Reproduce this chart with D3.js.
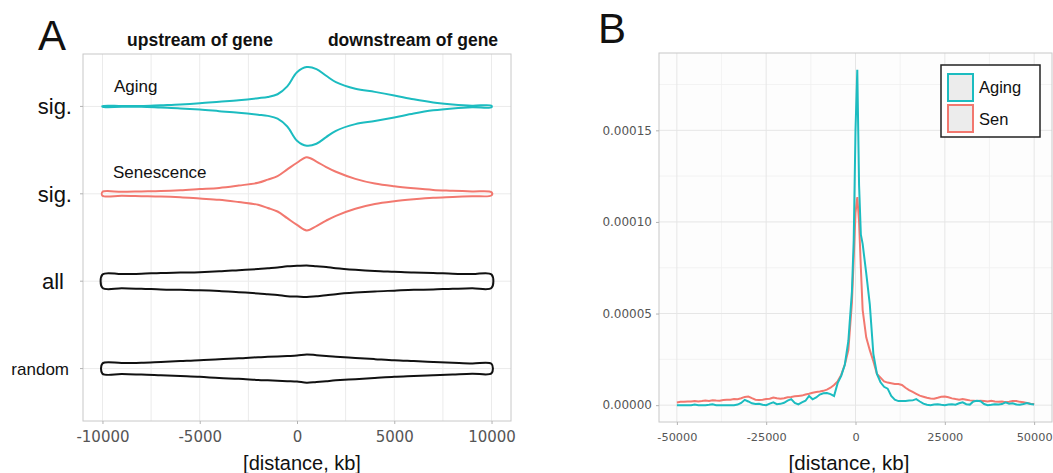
<!DOCTYPE html>
<html>
<head>
<meta charset="utf-8">
<script src="https://cdn.jsdelivr.net/npm/d3@7"></script>
<style>
  body { margin: 0; background: #fff; }
  svg text { font-family: "Liberation Sans", Arial, sans-serif; }
  .tick text { font-family: "DejaVu Sans", sans-serif; fill: #555; }
  .tick line { stroke: #b3b3b3; }
</style>
</head>
<body>
<div id="chart"></div>
<script>
/**
 * DATA
 * */
// panel A: violin density profiles (relative density, Aging peak = 100)
const violinDist = [-10000, -9000, -8000, -7000, -6000, -5000, -4000, -3000, -2000, -1500, -1000, -500,
  0, 500, 1000, 1500, 2000, 3000, 4000, 5000, 6000, 7000, 8000, 9000, 10000];
const violinGroups = ["Aging", "Senescence", "all", "random"];
const violinLabels = ["sig.", "sig.", "all", "random"];
const densAging = [1, 1, 1, 3, 5, 8, 12, 16, 21, 24, 31, 51, 87, 100, 95, 78, 62, 45, 37, 28, 18, 10, 5, 2, 2];
const densSen = [5, 5, 6, 7, 9, 12, 15, 21, 28, 36, 45, 62, 79, 93, 82, 68, 56, 38, 26, 19, 14, 10, 8, 6, 4];
const densAll = [17, 18, 19, 21, 22, 23, 25, 28, 31, 33, 35, 38, 39, 40, 38, 36, 33, 29, 26, 24, 22, 21, 19, 18, 17];
const densRandom = [13, 14, 15, 17, 19, 21, 24, 26, 29, 30, 31, 32, 33, 36, 34, 32, 30, 27, 24, 21, 19, 17, 15, 13, 12];
const xTicksA = [-10000, -5000, 0, 5000, 10000];
const xGridA = [-10000, -7500, -5000, -2500, 0, 2500, 5000, 7500, 10000];

// panel B: density along distance (values in units of 1e-6)
const distB = [-50000, -49000, -48000, -47000, -46000, -45000, -44000, -43000, -42000, -41000,
  -40000, -39000, -38000, -37000, -36000, -35000, -34000, -33000, -32000, -31000,
  -30000, -29000, -28000, -27000, -26000, -25000, -24000, -23000, -22000, -21000,
  -20000, -19000, -18000, -17000, -16000, -15000, -14000, -13000, -12000, -11000,
  -10000, -9000, -8000, -7000, -6000, -5000, -4000, -3000, -2000, -1000, -500,
  0, 500, 1000, 1500, 2000, 3000, 4000, 5000, 6000, 7000, 8000, 9000,
  10000, 11000, 12000, 13000, 14000, 15000, 16000, 17000, 18000, 19000,
  20000, 21000, 22000, 23000, 24000, 25000, 26000, 27000, 28000, 29000,
  30000, 31000, 32000, 33000, 34000, 35000, 36000, 37000, 38000, 39000,
  40000, 41000, 42000, 43000, 44000, 45000, 46000, 47000, 48000, 49000, 50000];
const agingB = [0, 0, 0, 0, 0, 0.3, 0, 0, 0, 0.2,
  0.5, 0, 0, 0, 0, 0, 0, 0.3, 1.2, 2.9,
  2, 1, 0.6, 0.8, 0.2, 0, 0.8, 1.5, 0.5, 0.7,
  1.3, 2.5, 3.3, 1.2, 0.4, 1.5, 2.4, 5, 3.2, 4.2,
  5.8, 6.5, 6.6, 6, 5, 12, 16, 22, 35, 62, 90,
  150, 183, 120, 93, 88, 72, 55, 28, 17, 12.5, 10, 9,
  5, 3, 2.2, 2.3, 2.3, 2.5, 2.6, 3.3, 2, 0.8,
  0.2, 0, 0.3, 0.5, 0.2, 0, 0.3, 0.5, 0.2, 1,
  1.5, 0.5, 0.3, 2, 2.4, 2.1, 0.6, 0, 0.2, 0.5,
  0.3, 0.6, 1.5, 0.8, 1, 0.4, 0.2, 0.6, 1.2, 0.6, 0.3];
const senB = [1.5, 1.8, 1.8, 2, 2, 2.3, 2, 2.2, 2.5, 2.3,
  2.7, 2.5, 2.4, 2.8, 3, 3, 3.3, 3.2, 3.8, 4.5,
  4.7, 3.8, 3, 2.8, 3, 3.3, 3.5, 4.2, 3.8, 3.5,
  3.8, 4.3, 4.5, 4.8, 5, 5.2, 5.8, 6.2, 6.8, 7.2,
  7.4, 7.8, 8.5, 9.5, 11, 13, 16.5, 22, 30, 56, 80,
  105, 113.6, 100, 75, 52, 37, 30, 24, 17, 15, 13, 12.3,
  12, 11.6, 11.5, 11, 9.5, 8.2, 7.2, 6.2, 5.2, 4.6,
  4, 3.6, 3.5, 4, 4.6, 4.7, 4.3, 3.7, 3.3, 3,
  3.4, 3, 2.6, 2.4, 2.2, 2.4, 2.2, 2, 2.4, 2,
  1.8, 2, 1.6, 1.8, 2.2, 2.3, 1.8, 1.6, 1.2, 0.8, 0.6];
const seriesB = ["Aging", "Sen"];
const xTicksB = [-50000, -25000, 0, 25000, 50000];
const xMinorB = [-37500, -12500, 12500, 37500];
const yTicksB = [0, 50, 100, 150];
const yMinorB = [25, 75, 125, 175];

/**
 * CONSTANTS
 * */
const width = 1053, height = 473;
const cyan = "#1cbcc0", red = "#f2786f";
const colorA = { Aging: cyan, Senescence: red, all: "#111", random: "#111" };
const colorB = { Aging: cyan, Sen: red };
const plainNum = d => String(d); // hyphen minus, no thousands separator

const svg = d3.select("#chart").append("svg")
  .attr("width", width).attr("height", height);

/**
 * PANEL A
 * */
const pA = { left: 83, right: 511, top: 54, bottom: 421 };
const xA = d3.scaleLinear().domain([-11000, 11000]).range([pA.left, pA.right]);
const yA = d3.scaleLinear().domain([0.4, 4.6]).range([pA.top, pA.bottom]);
const wA = d3.scaleLinear().domain([0, 100]).range([0, yA(1.45) - yA(1)]);

const gA = svg.append("g");
// grid
gA.selectAll("line.vgrid").data(xGridA).join("line")
  .attr("x1", d => xA(d)).attr("x2", d => xA(d))
  .attr("y1", pA.top).attr("y2", pA.bottom)
  .attr("stroke", "#ebebeb").attr("stroke-width", 1);
gA.selectAll("line.hgrid").data(violinGroups).join("line")
  .attr("x1", pA.left).attr("x2", pA.right)
  .attr("y1", (d, i) => yA(i + 1)).attr("y2", (d, i) => yA(i + 1))
  .attr("stroke", "#ebebeb").attr("stroke-width", 1);
gA.append("rect")
  .attr("x", pA.left).attr("y", pA.top)
  .attr("width", pA.right - pA.left).attr("height", pA.bottom - pA.top)
  .attr("fill", "none").attr("stroke", "#c8c8c8");

// violins
const densities = [densAging, densSen, densAll, densRandom];
const violinLine = d3.line().curve(d3.curveCatmullRomClosed.alpha(0.5));
violinGroups.forEach((g, i) => {
  const cy = yA(i + 1);
  const dens = densities[i];
  const top = violinDist.map((d, j) => [xA(d), cy - wA(dens[j])]);
  const bottom = violinDist.map((d, j) => [xA(d), cy + wA(dens[j])]).reverse();
  gA.append("path")
    .attr("d", violinLine(top.concat(bottom)))
    .attr("fill", "none")
    .attr("stroke", colorA[g])
    .attr("stroke-width", 2);
});

// x axis
gA.append("g")
  .attr("transform", `translate(0,${pA.bottom})`)
  .call(d3.axisBottom(xA).tickValues(xTicksA).tickFormat(plainNum).tickSize(3).tickPadding(7))
  .call(g => g.select(".domain").remove())
  .selectAll("text").attr("font-size", 15);

// y category labels
const labelRight = [72, 72, 64, 69];
const labelSize = [22, 22, 22, 17];
gA.selectAll("text.cat").data(violinLabels).join("text")
  .attr("class", "cat")
  .attr("x", (d, i) => labelRight[i])
  .attr("y", (d, i) => yA(i + 1))
  .attr("dy", "0.35em")
  .attr("text-anchor", "end")
  .attr("font-size", (d, i) => labelSize[i])
  .attr("fill", "#111")
  .text(d => d);
gA.selectAll("line.ytick").data(violinLabels).join("line")
  .attr("x1", pA.left - 3).attr("x2", pA.left)
  .attr("y1", (d, i) => yA(i + 1)).attr("y2", (d, i) => yA(i + 1))
  .attr("stroke", "#b3b3b3");

// annotations
gA.append("text").attr("x", 114).attr("y", 92).attr("font-size", 17).attr("fill", "#111").text("Aging");
gA.append("text").attr("x", 113).attr("y", 178).attr("font-size", 17).attr("fill", "#111").text("Senescence");
gA.append("text").attr("x", 200).attr("y", 46).attr("text-anchor", "middle")
  .attr("font-size", 17.5).attr("font-weight", "bold").attr("fill", "#111").text("upstream of gene");
gA.append("text").attr("x", 413).attr("y", 46).attr("text-anchor", "middle")
  .attr("font-size", 17.5).attr("font-weight", "bold").attr("fill", "#111").text("downstream of gene");
gA.append("text").attr("x", 302).attr("y", 470).attr("text-anchor", "middle")
  .attr("font-size", 20).attr("fill", "#111").text("[distance, kb]");
gA.append("text").attr("x", 38).attr("y", 50).attr("font-size", 42).attr("fill", "#111").text("A");

/**
 * PANEL B
 * */
const pB = { left: 659, right: 1052, top: 53, bottom: 422 };
const xB = d3.scaleLinear().domain([-55000, 55000]).range([pB.left, pB.right]);
const yB = d3.scaleLinear().domain([-9.2, 192.2]).range([pB.bottom, pB.top]);

const gB = svg.append("g");
gB.append("rect")
  .attr("x", pB.left).attr("y", pB.top)
  .attr("width", pB.right - pB.left).attr("height", pB.bottom - pB.top)
  .attr("fill", "#fdfdfd");
gB.selectAll("line.xminor").data(xMinorB).join("line")
  .attr("x1", d => xB(d)).attr("x2", d => xB(d)).attr("y1", pB.top).attr("y2", pB.bottom)
  .attr("stroke", "#f0f0f0").attr("stroke-width", 0.8);
gB.selectAll("line.yminor").data(yMinorB).join("line")
  .attr("x1", pB.left).attr("x2", pB.right).attr("y1", d => yB(d)).attr("y2", d => yB(d))
  .attr("stroke", "#f0f0f0").attr("stroke-width", 0.8);
gB.selectAll("line.xmajor").data(xTicksB).join("line")
  .attr("x1", d => xB(d)).attr("x2", d => xB(d)).attr("y1", pB.top).attr("y2", pB.bottom)
  .attr("stroke", "#e6e6e6").attr("stroke-width", 1);
gB.selectAll("line.ymajor").data(yTicksB).join("line")
  .attr("x1", pB.left).attr("x2", pB.right).attr("y1", d => yB(d)).attr("y2", d => yB(d))
  .attr("stroke", "#e6e6e6").attr("stroke-width", 1);
gB.append("rect")
  .attr("x", pB.left).attr("y", pB.top)
  .attr("width", pB.right - pB.left).attr("height", pB.bottom - pB.top)
  .attr("fill", "none").attr("stroke", "#c8c8c8");

const lineB = d3.line().x((d, i) => xB(distB[i])).y(d => yB(d));
gB.append("path").datum(senB)
  .attr("d", lineB).attr("fill", "none").attr("stroke", red).attr("stroke-width", 2);
gB.append("path").datum(agingB)
  .attr("d", lineB).attr("fill", "none").attr("stroke", cyan).attr("stroke-width", 2);

gB.append("g")
  .attr("transform", `translate(0,${pB.bottom})`)
  .call(d3.axisBottom(xB).tickValues(xTicksB).tickFormat(plainNum).tickSize(3).tickPadding(8))
  .call(g => g.select(".domain").remove())
  .selectAll("text").attr("font-size", 11.3);
gB.append("g")
  .attr("transform", `translate(${pB.left},0)`)
  .call(d3.axisLeft(yB).tickValues(yTicksB).tickSize(3).tickPadding(4)
    .tickFormat(d => (d * 1e-6).toFixed(5)))
  .call(g => g.select(".domain").remove())
  .selectAll("text").attr("font-size", 12);

// legend
const legend = gB.append("g");
legend.append("rect")
  .attr("x", 941).attr("y", 65).attr("width", 99).attr("height", 72)
  .attr("fill", "#fff").attr("stroke", "#222").attr("stroke-width", 1.5);
legend.selectAll("rect.key").data(seriesB).join("rect")
  .attr("class", "key")
  .attr("x", 948).attr("y", (d, i) => 74 + i * 31)
  .attr("width", 25).attr("height", 27)
  .attr("fill", "#ececec").attr("stroke", d => colorB[d]).attr("stroke-width", 2);
legend.selectAll("text.lab").data(seriesB).join("text")
  .attr("class", "lab")
  .attr("x", 979).attr("y", (d, i) => 93 + i * 32)
  .attr("font-size", 16.5).attr("fill", "#111")
  .text(d => d);

gB.append("text").attr("x", 849).attr("y", 470).attr("text-anchor", "middle")
  .attr("font-size", 20.5).attr("fill", "#111").text("[distance, kb]");
gB.append("text").attr("x", 598).attr("y", 43).attr("font-size", 42).attr("fill", "#111").text("B");
</script>
</body>
</html>
